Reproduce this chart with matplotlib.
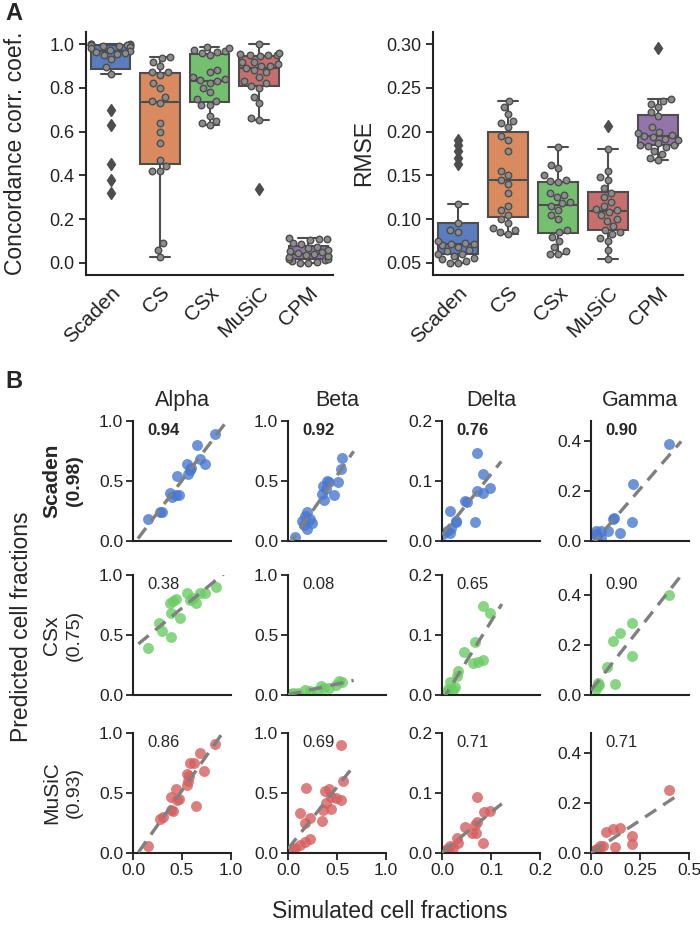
import numpy as np
import pandas as pd
import matplotlib
matplotlib.use("Agg")
import matplotlib.pyplot as plt
import seaborn as sns

sns.set_style("ticks")
plt.rcParams["font.family"] = ["Liberation Sans", "DejaVu Sans"]
plt.rcParams["axes.edgecolor"] = "#222222"
plt.rcParams["axes.linewidth"] = 1.5
plt.rcParams["xtick.color"] = "#222222"
plt.rcParams["ytick.color"] = "#222222"

# ---- panel A data ----
methods = ["Scaden", "CS", "CSx", "MuSiC", "CPM"]

ccc_scaden = [1.0, 1.0, 0.998, 0.997, 0.996, 0.995, 0.993, 0.99, 0.985, 0.98, 0.975, 0.97,
              0.965, 0.96, 0.955, 0.95, 0.93, 0.895, 0.865, 0.70, 0.63, 0.45, 0.38, 0.32]
ccc_cs = [0.025, 0.06, 0.09, 0.42, 0.42, 0.445, 0.47, 0.55, 0.60, 0.64, 0.73, 0.74,
          0.76, 0.80, 0.82, 0.86, 0.87, 0.87, 0.90, 0.92, 0.935, 0.94]
ccc_csx = [0.63, 0.64, 0.65, 0.67, 0.72, 0.72, 0.74, 0.75, 0.78, 0.80, 0.82, 0.83,
           0.835, 0.84, 0.85, 0.87, 0.88, 0.95, 0.96, 0.965, 0.97, 0.975, 0.98, 0.985]
ccc_music = [0.34, 0.655, 0.66, 0.73, 0.76, 0.80, 0.81, 0.82, 0.83, 0.85, 0.87, 0.88, 0.89,
             0.90, 0.90, 0.91, 0.92, 0.92, 0.945, 0.95, 0.95, 0.95, 0.955, 0.96, 1.0]
ccc_cpm = [0.0, 0.0, 0.005, 0.01, 0.015, 0.02, 0.02, 0.025, 0.03, 0.03, 0.035, 0.04,
           0.045, 0.05, 0.055, 0.06, 0.07, 0.075, 0.085, 0.09, 0.105, 0.11, 0.11, 0.115]

rmse_scaden = [0.05, 0.05, 0.052, 0.054, 0.055, 0.058, 0.06, 0.06, 0.063, 0.065, 0.068, 0.07, 0.072,
               0.072, 0.073, 0.075, 0.085, 0.087, 0.095, 0.117, 0.163, 0.17, 0.178, 0.185, 0.191]
rmse_cs = [0.083, 0.085, 0.088, 0.09, 0.095, 0.10, 0.105, 0.11, 0.115, 0.13, 0.14, 0.145,
           0.15, 0.155, 0.178, 0.19, 0.195, 0.205, 0.21, 0.212, 0.22, 0.228, 0.235]
rmse_csx = [0.06, 0.06, 0.063, 0.068, 0.075, 0.08, 0.085, 0.088, 0.10, 0.105, 0.11, 0.115,
            0.118, 0.12, 0.125, 0.128, 0.13, 0.142, 0.144, 0.145, 0.15, 0.158, 0.162, 0.182]
rmse_music = [0.054, 0.065, 0.075, 0.078, 0.083, 0.085, 0.088, 0.092, 0.098, 0.10, 0.105, 0.108,
              0.11, 0.112, 0.115, 0.12, 0.125, 0.13, 0.135, 0.145, 0.148, 0.155, 0.18, 0.207]
rmse_cpm = [0.167, 0.17, 0.175, 0.178, 0.183, 0.184, 0.185, 0.185, 0.187, 0.19, 0.192, 0.194,
            0.195, 0.196, 0.198, 0.2, 0.205, 0.218, 0.222, 0.228, 0.232, 0.235, 0.237, 0.296]

# ---- panel B data (simulated x, predicted y) ----
cell_types = ["Alpha", "Beta", "Delta", "Gamma"]
row_methods = ["Scaden", "CSx", "MuSiC"]
row_overall = ["(0.98)", "(0.75)", "(0.93)"]
panel_ccc = [["0.94", "0.92", "0.76", "0.90"],
             ["0.38", "0.08", "0.65", "0.90"],
             ["0.86", "0.69", "0.71", "0.71"]]

scaden_alpha_x = [0.15, 0.28, 0.30, 0.38, 0.40, 0.44, 0.47, 0.45, 0.55, 0.56, 0.58, 0.59, 0.65, 0.68, 0.73, 0.84]
scaden_alpha_y = [0.18, 0.24, 0.24, 0.40, 0.37, 0.38, 0.38, 0.54, 0.64, 0.56, 0.59, 0.61, 0.80, 0.68, 0.64, 0.89]
scaden_beta_x = [0.07, 0.14, 0.16, 0.17, 0.19, 0.19, 0.22, 0.24, 0.35, 0.37, 0.36, 0.39, 0.40, 0.42, 0.47, 0.51, 0.54, 0.55]
scaden_beta_y = [0.03, 0.17, 0.13, 0.21, 0.24, 0.10, 0.18, 0.15, 0.39, 0.34, 0.46, 0.43, 0.50, 0.49, 0.38, 0.49, 0.60, 0.69]
scaden_delta_x = [0.003, 0.010, 0.016, 0.016, 0.018, 0.028, 0.029, 0.047, 0.051, 0.067, 0.071, 0.072, 0.084, 0.084, 0.097]
scaden_delta_y = [0.011, 0.017, 0.050, 0.014, 0.022, 0.031, 0.034, 0.067, 0.065, 0.031, 0.084, 0.146, 0.112, 0.080, 0.088]
scaden_gamma_x = [0.02, 0.025, 0.03, 0.05, 0.05, 0.085, 0.11, 0.115, 0.15, 0.21, 0.215, 0.40]
scaden_gamma_y = [0.027, 0.04, 0.02, 0.04, 0.014, 0.04, 0.088, 0.094, 0.034, 0.077, 0.23, 0.39]

csx_alpha_x = [0.155, 0.27, 0.30, 0.39, 0.39, 0.38, 0.41, 0.44, 0.475, 0.55, 0.58, 0.61, 0.64, 0.68, 0.73, 0.845]
csx_alpha_y = [0.39, 0.60, 0.53, 0.48, 0.68, 0.77, 0.78, 0.80, 0.64, 0.85, 0.79, 0.81, 0.77, 0.85, 0.85, 0.90]
csx_beta_x = [0.02, 0.05, 0.10, 0.17, 0.22, 0.30, 0.34, 0.37, 0.42, 0.49, 0.525, 0.55]
csx_beta_y = [0.01, 0.02, 0.02, 0.04, 0.03, 0.03, 0.077, 0.06, 0.06, 0.08, 0.12, 0.11]
csx_delta_x = [0.01, 0.013, 0.016, 0.023, 0.026, 0.030, 0.033, 0.045, 0.063, 0.067, 0.073, 0.083, 0.084, 0.098]
csx_delta_y = [0.005, 0.010, 0.021, 0.008, 0.013, 0.032, 0.040, 0.072, 0.053, 0.088, 0.055, 0.149, 0.058, 0.137]
csx_gamma_x = [0.025, 0.03, 0.038, 0.04, 0.08, 0.11, 0.12, 0.15, 0.21, 0.21, 0.40]
csx_gamma_y = [0.024, 0.036, 0.05, 0.04, 0.114, 0.215, 0.044, 0.25, 0.29, 0.156, 0.40]

music_alpha_x = [0.155, 0.28, 0.31, 0.39, 0.41, 0.39, 0.45, 0.44, 0.47, 0.55, 0.56, 0.57, 0.55, 0.64, 0.58, 0.62, 0.68, 0.72, 0.84]
music_alpha_y = [0.06, 0.28, 0.30, 0.36, 0.35, 0.47, 0.44, 0.53, 0.45, 0.57, 0.60, 0.64, 0.66, 0.39, 0.75, 0.75, 0.83, 0.68, 0.91]
music_beta_x = [0.04, 0.07, 0.12, 0.12, 0.17, 0.17, 0.18, 0.22, 0.22, 0.35, 0.36, 0.38, 0.39, 0.42, 0.44, 0.44, 0.49, 0.54, 0.54, 0.56]
music_beta_y = [0.03, 0.04, 0.33, 0.07, 0.09, 0.25, 0.54, 0.29, 0.115, 0.27, 0.36, 0.52, 0.42, 0.53, 0.37, 0.47, 0.46, 0.44, 0.90, 0.60]
music_delta_x = [0.003, 0.010, 0.016, 0.023, 0.031, 0.033, 0.047, 0.062, 0.067, 0.070, 0.072, 0.072, 0.084, 0.086, 0.098]
music_delta_y = [0.004, 0.007, 0.012, 0.009, 0.025, 0.017, 0.043, 0.034, 0.046, 0.034, 0.051, 0.093, 0.017, 0.068, 0.070]
music_gamma_x = [0.02, 0.03, 0.046, 0.06, 0.077, 0.11, 0.12, 0.15, 0.21, 0.21, 0.40]
music_gamma_y = [0.011, 0.017, 0.027, 0.03, 0.086, 0.096, 0.025, 0.099, 0.069, 0.035, 0.253]

x_max = [1.0, 1.0, 0.2, 0.5]
y_max = [1.0, 1.0, 0.2, 0.48]
x_ticks = [[0, 0.5, 1.0], [0, 0.5, 1.0], [0, 0.1, 0.2], [0, 0.25, 0.5]]
x_ticklabels = [["0.0", "0.5", "1.0"], ["0.0", "0.5", "1.0"], ["0.0", "0.1", "0.2"], ["0.0", "0.25", "0.5"]]
y_ticks = [[0, 0.5, 1.0], [0, 0.5, 1.0], [0, 0.1, 0.2], [0, 0.2, 0.4]]
y_ticklabels = [["0.0", "0.5", "1.0"], ["0.0", "0.5", "1.0"], ["0.0", "0.1", "0.2"], ["0.0", "0.2", "0.4"]]

scatter_data = [
    [(scaden_alpha_x, scaden_alpha_y), (scaden_beta_x, scaden_beta_y),
     (scaden_delta_x, scaden_delta_y), (scaden_gamma_x, scaden_gamma_y)],
    [(csx_alpha_x, csx_alpha_y), (csx_beta_x, csx_beta_y),
     (csx_delta_x, csx_delta_y), (csx_gamma_x, csx_gamma_y)],
    [(music_alpha_x, music_alpha_y), (music_beta_x, music_beta_y),
     (music_delta_x, music_delta_y), (music_gamma_x, music_gamma_y)],
]

muted = sns.color_palette("muted")
box_colors = [sns.desaturate(c, 0.75) for c in muted[:5]]
row_colors = [muted[0], muted[2], muted[3]]

W, H = 700, 926
fig = plt.figure(figsize=(W / 100, H / 100), dpi=100)


def px_axes(left, top, width, height):
    return fig.add_axes([left / W, 1 - (top + height) / H, width / W, height / H])


def box_swarm(ax, values, ylim, yticks, ylabel):
    ax.boxplot(values, positions=range(len(values)), widths=0.8, patch_artist=True,
               capwidths=0.4, zorder=1,
               boxprops=dict(linewidth=1.5, edgecolor="0.3"),
               whiskerprops=dict(linewidth=1.5, color="0.3"),
               capprops=dict(linewidth=1.5, color="0.3"),
               medianprops=dict(linewidth=1.5, color="0.3"),
               flierprops=dict(marker="d", markerfacecolor="0.3", markeredgecolor="0.3",
                               markersize=6))
    for patch, c in zip(ax.patches, box_colors):
        patch.set_facecolor(c)
    # points inside the whiskers are drawn as a swarm
    rows = []
    for m, v in zip(methods, values):
        v = np.asarray(v)
        q1, q3 = np.percentile(v, [25, 75])
        iqr = q3 - q1
        keep = v[(v >= q1 - 1.5 * iqr) & (v <= q3 + 1.5 * iqr)]
        rows += [(m, k) for k in keep]
    df = pd.DataFrame(rows, columns=["method", "value"])
    sns.swarmplot(data=df, x="method", y="value", order=methods, color="0.55",
                  edgecolor="0.3", linewidth=1, size=4.7, ax=ax, zorder=3)
    ax.set_xlim(-0.5, len(methods) - 0.5)
    ax.set_ylim(*ylim)
    ax.set_yticks(yticks)
    ax.set_xticks(range(len(methods)))
    ax.set_xticklabels(methods, rotation=45, ha="right", rotation_mode="anchor", fontsize=15)
    ax.tick_params(axis="y", labelsize=13, length=5, width=1.3)
    ax.tick_params(axis="x", length=0, pad=6)
    ax.set_xlabel("")
    ax.set_ylabel(ylabel, fontsize=16.5)
    sns.despine(ax=ax)


axA1 = px_axes(86, 32, 247, 243)
box_swarm(axA1, [ccc_scaden, ccc_cs, ccc_csx, ccc_music, ccc_cpm], (-0.055, 1.055),
          [0, 0.2, 0.4, 0.6, 0.8, 1.0], "Concordance corr. coef.")
axA1.yaxis.set_label_coords(-0.24, 0.5)

axA2 = px_axes(433, 32, 250, 243)
box_swarm(axA2, [rmse_scaden, rmse_cs, rmse_csx, rmse_music, rmse_cpm], (0.036, 0.314),
          [0.05, 0.10, 0.15, 0.20, 0.25, 0.30], "RMSE")
axA2.set_yticklabels(["0.05", "0.10", "0.15", "0.20", "0.25", "0.30"])
axA2.yaxis.set_label_coords(-0.232, 0.5)

fig.text(5 / W, 1 - 13 / H, "A", fontsize=17, fontweight="bold", va="center", ha="left")
fig.text(5 / W, 1 - 382 / H, "B", fontsize=17, fontweight="bold", va="center", ha="left")

# ---- panel B ----
col_left = [133, 288, 442, 591]
row_top = [421, 575, 733]
for r in range(3):
    for c in range(4):
        ax = px_axes(col_left[c], row_top[r], 98, 120)
        xs, ys = scatter_data[r][c]
        xs = np.asarray(xs)
        ys = np.asarray(ys)
        ax.scatter(xs, ys, s=62, color=row_colors[r], alpha=0.8, linewidths=0, zorder=2)
        slope, icpt = np.polyfit(xs, ys, 1)
        x0 = max(0.0, xs.min() - 0.1 * x_max[c])
        x1 = min(x_max[c], xs.max() + 0.12 * x_max[c])
        xl = np.array([x0, x1])
        ax.plot(xl, slope * xl + icpt, color="#808080", lw=2.4, dashes=(4, 2.5), zorder=3)
        ax.set_xlim(0, x_max[c])
        ax.set_ylim(0, y_max[c])
        ax.set_yticks(y_ticks[c])
        ax.set_yticklabels(y_ticklabels[c])
        ax.set_xticks(x_ticks[c])
        ax.tick_params(axis="both", labelsize=12.5, length=5, width=1.3, pad=2)
        if r == 2:
            ax.set_xticklabels(x_ticklabels[c])
        else:
            ax.set_xticklabels([])
            ax.tick_params(axis="x", length=0)
        sns.despine(ax=ax)
        ax.text(0.15, 0.92, panel_ccc[r][c], transform=ax.transAxes, fontsize=12,
                fontweight="bold" if r == 0 else "normal", ha="left", va="center")
        if r == 0:
            ax.set_title(cell_types[c], fontsize=15.5, pad=11)
    yc = 1 - (row_top[r] + 60) / H
    fig.text(52 / W, yc, row_methods[r], rotation=90, fontsize=15,
             fontweight="bold" if r == 0 else "normal", ha="center", va="center")
    fig.text(74 / W, yc, row_overall[r], rotation=90, fontsize=14,
             fontweight="bold" if r == 0 else "normal", ha="center", va="center")

fig.text(22 / W, 1 - 627 / H, "Predicted cell fractions", rotation=90, fontsize=16.5,
         ha="center", va="center")
fig.text(390 / W, 1 - 911 / H, "Simulated cell fractions", fontsize=16.5,
         ha="center", va="center")

fig.savefig("out.png", dpi=100)
